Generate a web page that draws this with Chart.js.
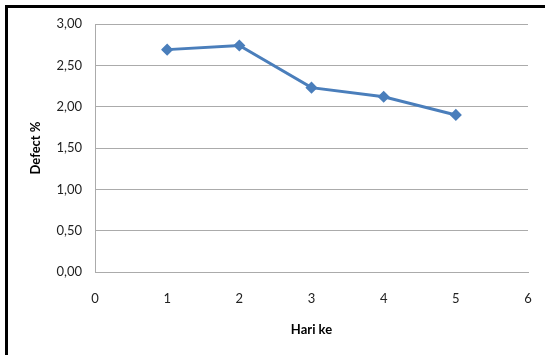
<!DOCTYPE html>
<html>
<head>
<meta charset="utf-8">
<script src="https://cdn.jsdelivr.net/npm/chart.js@4/dist/chart.umd.min.js"></script>
<style>
  html, body { margin: 0; padding: 0; background: #fff; }
  #wrap { position: relative; width: 545px; height: 355px; overflow: hidden; }
  #frame { position: absolute; left: 5px; top: 5px; width: 600px; height: 400px;
           border-left: 3px solid #000; border-top: 3px solid #000; box-sizing: border-box; pointer-events: none; }
  canvas { position: absolute; left: 0; top: 0; }
</style>
</head>
<body>
<div id="wrap">
  <canvas id="c" width="545" height="355"></canvas>
  <div id="frame"></div>
</div>
<script>
// Daily defect percentage
const days = [1, 2, 3, 4, 5];
const defectPct = [2.69, 2.74, 2.23, 2.12, 1.90];
const xTicks = [0, 1, 2, 3, 4, 5, 6];
const yTicks = [0, 0.5, 1, 1.5, 2, 2.5, 3];
const xTitle = 'Hari ke';
const yTitle = 'Defect %';

const lineBlue = '#4a7ebb';
const gridGray = '#ababab';
const tickFont = { family: 'Lato', size: 13 };
const titleFont = { family: 'Lato', size: 13, weight: 'bold' };

new Chart(document.getElementById('c'), {
  type: 'scatter',
  data: {
    datasets: [{
      data: days.map((d, i) => ({ x: d, y: defectPct[i] })),
      showLine: true,
      borderColor: lineBlue,
      backgroundColor: lineBlue,
      borderWidth: 3,
      pointStyle: 'rectRot',
      pointRadius: 5,
      pointBorderWidth: 1.5,
      pointBorderColor: lineBlue,
      pointBackgroundColor: lineBlue,
      tension: 0
    }]
  },
  options: {
    responsive: false,
    maintainAspectRatio: false,
    animation: false,
    devicePixelRatio: 1,
    layout: { padding: { left: 28, right: 17, top: 24, bottom: 17 } },
    plugins: { legend: { display: false }, tooltip: { enabled: false } },
    scales: {
      x: {
        type: 'linear',
        min: 0, max: 6,
        afterBuildTicks: s => { s.ticks = xTicks.map(v => ({ value: v })); },
        afterFit: s => { s.height = 66; s.paddingLeft = 0; s.paddingRight = 0; },
        grid: { display: true, color: 'rgba(0,0,0,0)', drawTicks: false },
        border: { display: true, color: gridGray, width: 1 },
        ticks: { font: tickFont, color: '#222', padding: 19, maxRotation: 0 },
        title: { display: true, text: xTitle, font: titleFont, color: '#000', padding: 0 }
      },
      y: {
        type: 'linear',
        min: 0, max: 3,
        afterBuildTicks: s => { s.ticks = yTicks.map(v => ({ value: v })); },
        afterFit: s => { s.width = 67; },
        grid: { color: gridGray, lineWidth: 1, drawTicks: false },
        border: { display: true, color: gridGray, width: 1 },
        ticks: {
          font: tickFont, color: '#222', padding: 13,
          callback: v => v.toFixed(2).replace('.', ',')
        },
        title: { display: true, text: yTitle, font: titleFont, color: '#000', padding: 0 }
      }
    }
  }
});
</script>
</body>
</html>
